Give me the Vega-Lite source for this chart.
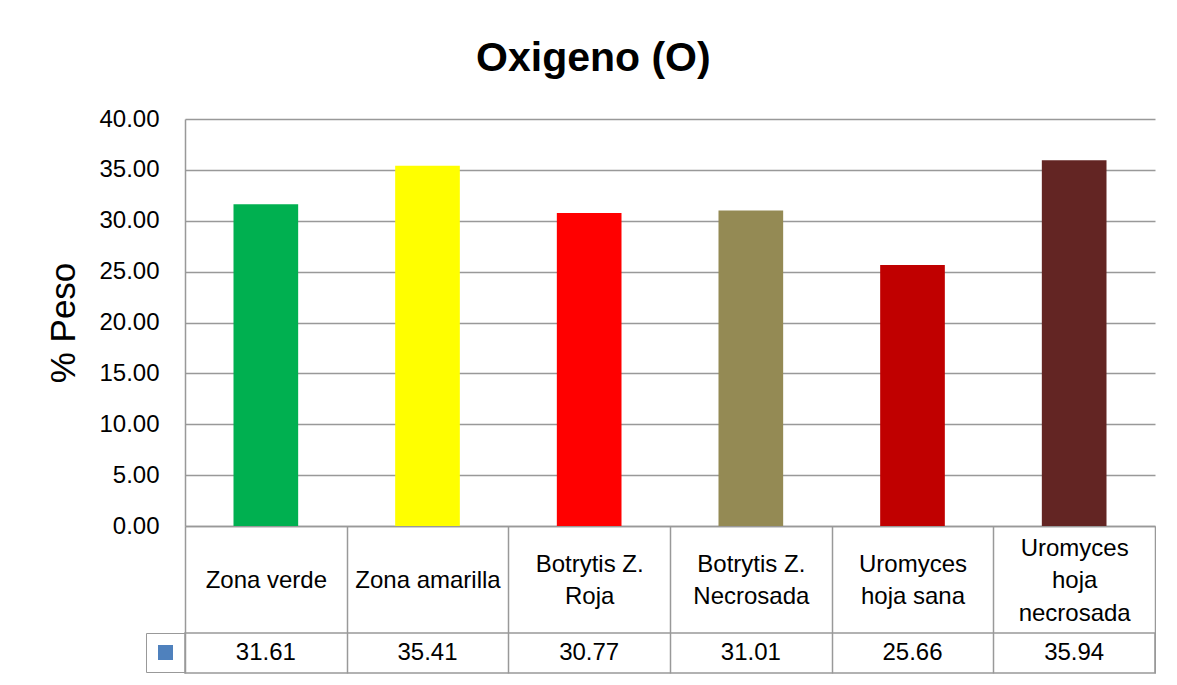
{
  "$schema": "https://vega.github.io/schema/vega-lite/v6.json",
  "autosize": {"type": "pad"},
  "padding": {"left": 46, "top": 38, "right": 0, "bottom": 0},
  "background": "white",
  "title": {"text": "Oxigeno (O)", "fontSize": 41, "fontWeight": "bold", "font": "Liberation Sans", "color": "black", "anchor": "middle", "frame": "bounds", "offset": 27, "dx": -8},
  "data": {"values": [
    {"cat": "Zona verde", "peso": 31.61, "serie": "O"},
    {"cat": "Zona amarilla", "peso": 35.41, "serie": "O"},
    {"cat": "Botrytis Z.\nRoja", "peso": 30.77, "serie": "O"},
    {"cat": "Botrytis Z.\nNecrosada", "peso": 31.01, "serie": "O"},
    {"cat": "Uromyces\nhoja sana", "peso": 25.66, "serie": "O"},
    {"cat": "Uromyces\nhoja\nnecrosada", "peso": 35.94, "serie": "O"}
  ]},
  "spacing": 107,
  "bounds": "flush",
  "resolve": {"scale": {"color": "independent"}, "legend": {"color": "independent"}},
  "vconcat": [
    {
      "width": 970,
      "height": 407,
      "view": {"stroke": null},
      "mark": {"type": "bar", "width": {"band": 0.4}},
      "encoding": {
        "x": {
          "field": "cat", "type": "nominal", "sort": null,
          "scale": {"paddingInner": 0, "paddingOuter": 0},
          "axis": {
            "title": null, "labelAngle": 0,
            "labelExpr": "split(datum.label,'\\n')",
            "labelFontSize": 24, "labelColor": "black", "labelFont": "Liberation Sans",
            "labelLineHeight": 32.5, "labelBaseline": "middle",
            "labelPadding": {
              "condition": [
                {"test": "length(split(datum.label,'\\n'))==1", "value": -92.5},
                {"test": "length(split(datum.label,'\\n'))==2", "value": -108.75}
              ],
              "value": -125
            },
            "labelOverlap": false, "labelLimit": 0, "labelFlush": false,
            "ticks": true, "tickBand": "extent", "tickSize": 147, "tickColor": "#999", "tickWidth": 1.5,
            "domain": true, "domainColor": "#999", "domainWidth": 1.5, "grid": false
          }
        },
        "y": {
          "field": "peso", "type": "quantitative",
          "scale": {"domain": [0, 40], "nice": false},
          "axis": {
            "title": "% Peso", "titleFontSize": 35, "titleFontWeight": "normal", "titleColor": "black",
            "titleFont": "Liberation Sans", "titlePadding": 17,
            "values": [0, 5, 10, 15, 20, 25, 30, 35, 40], "format": ".2f",
            "labelFontSize": 24, "labelColor": "black", "labelFont": "Liberation Sans", "labelPadding": 26,
            "ticks": false, "domain": true, "domainColor": "#999", "domainWidth": 1.5,
            "grid": true, "gridColor": "#999", "gridWidth": 1.5
          }
        },
        "color": {
          "field": "cat", "type": "nominal", "sort": null,
          "scale": {"range": ["#00B050", "#FFFF00", "#FF0000", "#948A54", "#C00000", "#632523"]},
          "legend": null
        }
      }
    },
    {
      "width": 970,
      "height": 40,
      "view": {"stroke": "#999", "strokeWidth": 1.5},
      "layer": [
        {
          "mark": {"type": "text", "fontSize": 24, "font": "Liberation Sans", "color": "black", "baseline": "middle"},
          "encoding": {
            "x": {"field": "cat", "type": "nominal", "sort": null, "scale": {"paddingInner": 0, "paddingOuter": 0}, "axis": null},
            "text": {"field": "peso", "type": "quantitative", "format": ".2f"}
          }
        },
        {
          "mark": {"type": "square", "size": 0, "opacity": 0},
          "encoding": {
            "x": {"field": "cat", "type": "nominal", "sort": null, "scale": {"paddingInner": 0, "paddingOuter": 0}, "axis": null},
            "color": {
              "field": "serie", "type": "nominal",
              "scale": {"range": ["#4F81BD"]},
              "legend": {
                "title": null, "orient": "left", "offset": 0,
                "symbolType": "square", "symbolSize": 225, "symbolOpacity": 1,
                "symbolFillColor": "#4F81BD", "symbolStrokeWidth": 0,
                "labelExpr": "''", "labelFontSize": 1, "labelOffset": 0,
                "strokeColor": "#999", "padding": 12
              }
            }
          }
        }
      ]
    }
  ]
}
